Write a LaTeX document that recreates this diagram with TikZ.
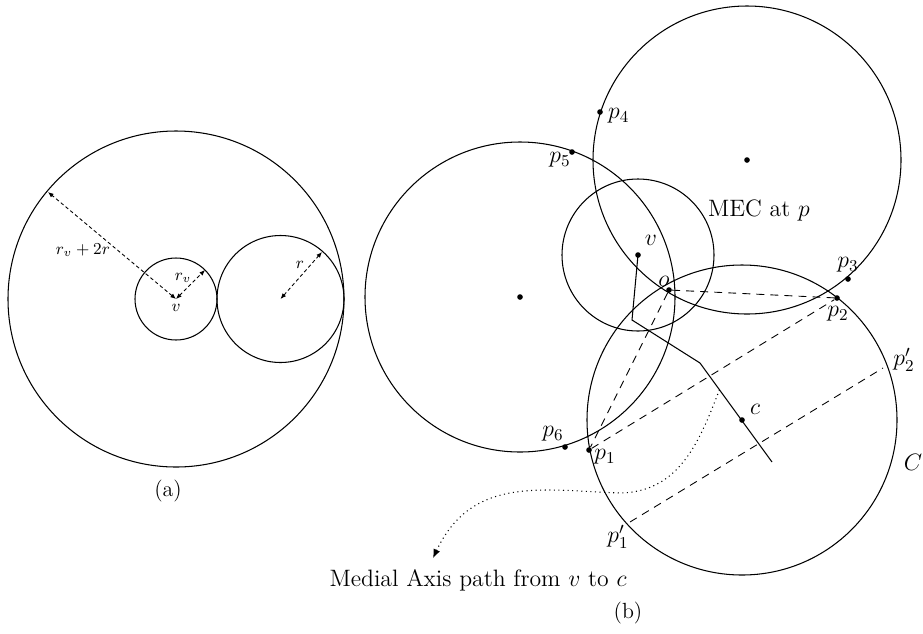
\RequirePackage{fix-cm}
\documentclass[tikz,border=0pt]{standalone}
\usepackage{amsmath,amssymb}
\usepackage{fontspec}
\usepackage{tikz}
\usetikzlibrary{arrows.meta,calc,positioning}
\tikzset{
  % Points: small filled dot
  pdot/.style={circle, fill=black, inner sep=0pt, minimum size=3.2pt},
  % Labels
  plabel/.style={font=\fontsize{13.5}{16}\selectfont, inner sep=1pt},
  slabel/.style={font=\fontsize{9.5}{11}\selectfont, inner sep=1pt},
  figcap/.style={font=\fontsize{12.5}{15}\selectfont, inner sep=1pt},
  % Circles and paths
  disc/.style={line width=0.6pt},
  radarr/.style={{Latex[length=3.2pt,width=2.6pt]}-{Latex[length=3.2pt,width=2.6pt]},
                 line width=0.5pt, dash pattern=on 2pt off 1.5pt},
  chord/.style={line width=0.5pt, dash pattern=on 4.5pt off 3.5pt},
  axispath/.style={line width=0.6pt},
  pathnote/.style={-{Latex[length=5pt,width=4pt]}, line width=0.6pt, dotted}
}

\begin{document}
\begin{tikzpicture}[x=0.02cm, y=-0.02cm]
\useasboundingbox (0,0) rectangle (923,633);

% (a): circle r_v at v, circle r touching it, enclosing circle r_v+2r
\coordinate (va) at (176,299);
\coordinate (ra) at (280.5,299);
\coordinate (bigedge) at (48,192);
\coordinate (rvedge) at (205,270);
\coordinate (redge) at (322,252);
\draw[disc] (va) circle (168);
\draw[disc] (va) circle (41);
\draw[disc] (ra) circle (63.5);
\draw[radarr] (va) -- (bigedge);
\draw[radarr] (va) -- (rvedge);
\draw[radarr] (ra) -- (redge);
\node[slabel] (lbig) at (83,250) {$r_v+2r$};
\node[slabel] (lrv) at (183,278) {$r_v$};
\node[slabel] (lva) at (176,308) {$v$};
\node[slabel] (lr) at (300,265) {$r$};
\node[figcap] (capa) at (168,491) {(a)};

% (b): circles through the boundary points, MEC at v, circle C at c
\node[pdot] (cL) at (520,297) {};
\node[pdot] (cT) at (747,160) {};
\node[pdot] (v) at (638,255) {};
\node[pdot] (o) at (669,290) {};
\node[pdot] (c) at (742,420) {};
\node[pdot] (p1) at (589,450) {};
\node[pdot] (p2) at (837,298) {};
\node[pdot] (p3) at (848,279) {};
\node[pdot] (p4) at (600,112) {};
\node[pdot] (p5) at (572,152) {};
\node[pdot] (p6) at (565,447) {};
\coordinate (q1) at (630,522);
\coordinate (q2) at (883,368);

\draw[disc] (cL) circle (155);
\draw[disc] (cT) circle (154);
\draw[disc] (v) circle (76);
\draw[disc] (c) circle (155);

% medial axis from v to c
\coordinate (m1) at (632,320);
\coordinate (m2) at (700,363);
\coordinate (mend) at (772,462);
\draw[axispath] (v.center) -- (m1) -- (m2) -- (mend);

% chords
\draw[chord] (o) -- (p2);
\draw[chord] (o) -- (p1);
\draw[chord] (p1) -- (p2);
\draw[chord] (q1) -- (q2);

% point labels
\node[plabel, anchor=west] (l4) at (606,116) {$p_4$};
\node[plabel] (l5) at (560,160) {$p_5$};
\node[plabel] (lv) at (651,240) {$v$};
\node[plabel] (lo) at (664,281) {$o$};
\node[plabel, anchor=west] (lmec) at (706,210) {MEC at $p$};
\node[plabel] (l3) at (848,265) {$p_3$};
\node[plabel] (l2) at (838,314) {$p_2$};
\node[plabel] (lq2) at (904,360) {$p_2'$};
\node[plabel] (l6) at (553,434) {$p_6$};
\node[plabel] (l1) at (605,457) {$p_1$};
\node[plabel] (lc) at (755,409) {$c$};
\node[plabel] (lC) at (913,462) {$C$};
\node[plabel] (lq1) at (618,537) {$p_1'$};

% note on the medial axis path
\node[plabel] (note) at (478,580) {Medial Axis path from $v$ to $c$};
\coordinate (mstart) at ($(m2)!0.27!(mend)$);
\coordinate (tip) at (433,558);
\draw[pathnote] (mstart) .. controls (700,440) and (680,492) .. (620,493)
  .. controls (540,490) and (472,476) .. (tip);
\node[figcap] (capb) at (628,613) {(b)};

\end{tikzpicture}
\end{document}
